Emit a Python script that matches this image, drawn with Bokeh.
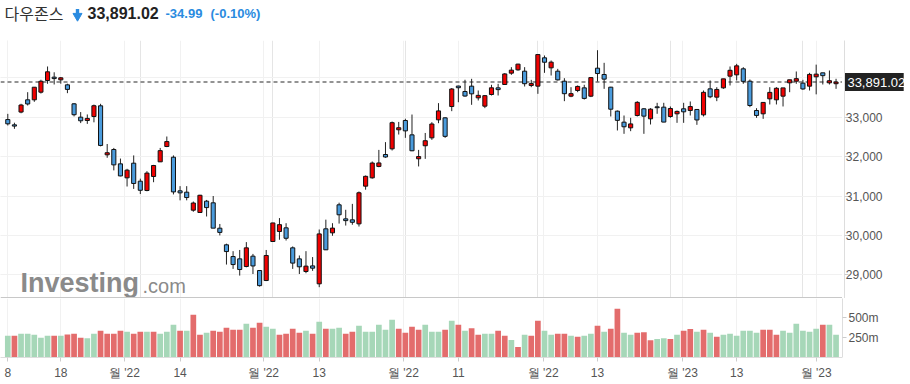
from bokeh.plotting import figure
from bokeh.layouts import column, row
from bokeh.models import ColumnDataSource, FixedTicker, Span, Grid, Range1d, NumeralTickFormatter
from bokeh.core.properties import value
from bokeh.embed import file_html
from bokeh.resources import INLINE

# ---------------- data (Dow Jones daily, Aug 8 2022 - Feb 6 2023) ----------------
opens = [32940, 32806, 33130, 33441, 33441, 33635, 33931, 34016, 33948, 33821,
         33339, 33001, 32916, 33018, 33289, 32045, 32180, 31816, 31461, 31833,
         31376, 31140, 31495, 31867, 32256, 31985, 31131, 31097, 30640, 30581,
         30869, 30827, 30183, 29761, 29464, 29405, 29211, 29473, 29109, 28855,
         29845, 30099, 30192, 29684, 29405, 29084, 29226, 28771, 30167, 30065,
         30776, 30420, 30395, 30293, 31250, 31461, 31750, 32053, 32197, 32680,
         32916, 32552, 31945, 32275, 32476, 32933, 32984, 33271, 33790, 33652,
         33788, 33491, 33280, 33576, 33745, 33830, 34118, 34202, 34168, 33805,
         33788, 34507, 34253, 34168, 33914, 33534, 33678, 33745, 33534, 34244,
         34084, 33762, 33153, 32874, 32730, 33043, 33213, 32959, 33263, 33255,
         33018, 33086, 33213, 33170, 33196, 33060, 33720, 33509, 33745, 34042,
         34075, 34228, 33914, 33170, 33086, 33466, 33441, 33534, 33872, 33914,
         33864, 33788, 34025, 34126, 33872, 33850]
highs = [33085, 32860, 33340, 33635, 33765, 33950, 34287, 34140, 34020, 33850,
         33360, 33130, 33070, 33320, 33340, 32320, 32220, 31950, 31690, 32030,
         31440, 31630, 31790, 32220, 32510, 32030, 31250, 31250, 30860, 31030,
         30900, 31000, 30290, 29790, 29600, 29630, 29830, 29530, 29110, 29630,
         30320, 30440, 30310, 29720, 29490, 29600, 29450, 30150, 30400, 30310,
         30830, 30650, 30800, 31115, 31520, 31876, 32170, 32367, 32890, 32880,
         32960, 33068, 32170, 32600, 32874, 33357, 33000, 33740, 33800, 33950,
         33974, 33678, 33560, 33822, 33847, 34118, 34270, 34355, 34270, 33948,
         34590, 34566, 34439, 34227, 33990, 33762, 33805, 33822, 34010, 34700,
         34380, 33770, 33170, 33043, 32985, 33407, 33230, 33230, 33365, 33365,
         33272, 33170, 33365, 33399, 33196, 33678, 33932, 33762, 33974, 34287,
         34354, 34270, 33957, 33229, 33382, 33762, 33762, 33744, 33949, 34160,
         33948, 34126, 34334, 34126, 34185, 33975]
lows = [32790, 32705, 33100, 33297, 33390, 33600, 33847, 33830, 33850, 33610,
        33020, 32850, 32830, 32870, 32260, 31970, 31650, 31500, 31241, 31180,
        31050, 31120, 31350, 31867, 32240, 31040, 30890, 30890, 30600, 30570,
        30480, 30190, 30000, 29260, 29150, 28980, 29190, 29020, 28700, 28840,
        29840, 29890, 29870, 29150, 29020, 29040, 29100, 28686, 29630, 29990,
        30300, 30250, 30270, 30225, 31160, 31440, 31730, 31970, 32155, 32560,
        32476, 32138, 31750, 31943, 32425, 32848, 32476, 33153, 33380, 33520,
        33314, 33424, 33230, 33551, 33551, 33830, 34075, 34180, 33779, 33762,
        33593, 34126, 34058, 33931, 33407, 33508, 33635, 33449, 33510, 33906,
        33720, 33018, 32663, 32578, 32645, 33018, 32578, 32815, 33086, 32874,
        32985, 32857, 32857, 33043, 32806, 33018, 33483, 33407, 33720, 33805,
        33932, 33847, 33255, 32984, 32958, 33323, 33323, 33272, 33635, 33847,
        33695, 33678, 33580, 33830, 33830, 33720]
closes = [32832, 32774, 33309, 33336, 33761, 33912, 34152, 33980, 33999, 33706,
          33063, 32909, 32969, 33291, 32283, 32098, 31790, 31510, 31656, 31318,
          31145, 31581, 31774, 32151, 32381, 31104, 31080, 30961, 30822, 31019,
          30706, 30184, 30076, 29590, 29260, 29134, 29684, 29225, 28725, 29490,
          30316, 30273, 29927, 29297, 29203, 29220, 29168, 30038, 29634, 30185,
          30523, 30375, 30333, 31082, 31499, 31837, 31839, 31990, 32861, 32733,
          32653, 32148, 32001, 32403, 32827, 33160, 32514, 33716, 33748, 33537,
          33593, 33554, 33547, 33746, 33700, 34098, 34194, 34347, 33850, 33853,
          34590, 34395, 34397, 33947, 33597, 33598, 33781, 33477, 34005, 34108,
          33966, 33203, 32920, 32757, 32830, 33377, 33027, 33204, 33241, 32876,
          33221, 33147, 33136, 33270, 32930, 33631, 33518, 33704, 33973, 34190,
          34303, 33910, 33297, 33045, 33375, 33630, 33734, 33744, 33949, 33978,
          33717, 34086, 34093, 34054, 33926, 33891]
# volume in millions
volumes = [271, 271, 296, 296, 284, 246, 271, 271, 271, 288,
           296, 246, 242, 296, 334, 296, 296, 334, 321, 296,
           321, 321, 321, 296, 321, 409, 334, 334, 534, 284,
           309, 334, 321, 371, 346, 346, 421, 371, 434, 384,
           359, 284, 296, 359, 309, 334, 296, 446, 359, 359,
           371, 296, 321, 396, 321, 321, 409, 346, 471, 359,
           309, 384, 346, 409, 321, 321, 346, 459, 409, 334,
           367, 284, 296, 296, 334, 271, 219, 132, 284, 271,
           459, 334, 284, 296, 296, 271, 259, 271, 296, 396,
           321, 359, 609, 309, 284, 309, 315, 217, 230, 242,
           230, 284, 334, 355, 321, 346, 309, 259, 284, 296,
           271, 334, 334, 309, 346, 346, 284, 334, 309, 421,
           334, 321, 359, 409, 409, 284]
# volume bar direction (u = green, d = red)
vol_dir = list("udu uuuu dudd duud dddu ddud uuud uddu ddddd udduu dddd udud uudd uuuu uudd dduu udud uddu uddu dudd uudd uduu dud duud dduu dudd udud uuuu uudd duuu uuud uudd d".replace(" ", ""))

x_tick_pos = [0, 8, 17.6, 26, 38.6, 47, 59.7, 68, 80.8, 89, 101.8, 110, 122]
x_tick_lab = ["8", "18", "월 '22", "14", "월 '22", "13", "월 '22", "11", "월 '22", "13", "월 '23", "13", "월 '23"]
grid_price = [29000, 30000, 31000, 32000, 33000, 34000]
price_ticks = [29000, 30000, 31000, 32000, 33000]   # 34,000 is hidden behind the last-price tag
vol_ticks = [250, 500]
vol_tick_lab = ["250m", "500m"]

last_price = 33891.02
header_name = "다우존스"
header_last = "33,891.02"
header_chg = "-34.99"
header_pct = "(-0.10%)"

# ---------------- layout constants ----------------
W = 910
FRAME_W = 842
RB = W - FRAME_W
PX = 6.626                       # px per candle
X0 = -7.3 / PX
X1 = X0 + FRAME_W / PX
P_TOP, P_BOT = 34946.6, 28398.6  # price range for the 258px pane
V_TOP = 737.5

n = len(closes)
xs = list(range(n))
UP, DOWN = "#f00000", "#4a9bdc"
VUP, VDOWN = "#a6d7b8", "#e36c6c"
AXIS_FONT = "Liberation Sans"

src = ColumnDataSource(dict(
    x=xs, o=opens, h=highs, l=lows, c=closes,
    top=[max(a, b) for a, b in zip(opens, closes)],
    bot=[min(a, b) for a, b in zip(opens, closes)],
    col=[UP if c >= o else DOWN for o, c in zip(opens, closes)],
    v=volumes,
    vcol=[VUP if d == "u" else VDOWN for d in vol_dir],
))


def style_side_axis(ax, standoff):
    ax.axis_line_color = "#dddddd"
    ax.major_tick_line_color = "#cccccc"
    ax.major_tick_out = 0
    ax.major_tick_in = 4
    ax.minor_tick_line_color = None
    ax.major_label_text_font = AXIS_FONT
    ax.major_label_text_font_size = "12px"
    ax.major_label_text_color = "#555555"
    ax.major_label_standoff = standoff


# ---------------- header ----------------
hdr = figure(width=W, height=40, x_range=Range1d(0, FRAME_W), y_range=Range1d(0, 40),
             toolbar_location=None, output_backend="svg", min_border=0, min_border_right=RB)
hdr.axis.visible = False
hdr.grid.visible = False
hdr.outline_line_color = None
hdr.text(x=[4], y=[27.5], text=[header_name], text_font=value("Noto Sans CJK KR"),
         text_font_size="16px", text_color="#333333", text_baseline="middle")
hdr.scatter(x=[77], y=[24.5], marker="inverted_triangle", size=9,
            fill_color="#2a8be0", line_color="#2a8be0")
hdr.rect(x=[77], y=[29], width=3.4, height=5, fill_color="#2a8be0", line_color=None)
hdr.text(x=[87], y=[27.5], text=[header_last], text_font=value("Liberation Sans"),
         text_font_size="16px", text_font_style="bold", text_color="#222222", text_baseline="middle")
hdr.text(x=[165], y=[27.5], text=[header_chg], text_font=value("Liberation Sans"),
         text_font_size="13px", text_font_style="bold", text_color="#2a8be0", text_baseline="middle")
hdr.text(x=[210], y=[27.5], text=[header_pct], text_font=value("Liberation Sans"),
         text_font_size="13px", text_font_style="bold", text_color="#2a8be0", text_baseline="middle")

# ---------------- price pane ----------------
p = figure(width=FRAME_W, height=258, x_range=Range1d(X0, X1), y_range=Range1d(P_BOT, P_TOP),
           toolbar_location=None, output_backend="svg", x_axis_location=None,
           y_axis_location=None, min_border=0)
p.outline_line_color = None
p.add_layout(Grid(dimension=1, ticker=FixedTicker(ticks=grid_price), grid_line_color="#f1f1f1"))
p.add_layout(Grid(dimension=0, ticker=FixedTicker(ticks=x_tick_pos), grid_line_color="#f1f1f1"))


def px_to_x(page_x):
    return X0 + page_x / PX


def py_to_price(page_y):
    return P_TOP - (page_y - 40) * (P_TOP - P_BOT) / 258.0


# watermark
p.text(x=[px_to_x(20)], y=[py_to_price(282.5)], text=["Investing"], text_font=value("Liberation Sans"),
       text_font_size="27px", text_font_style="bold", text_color="#8a8a8a", text_baseline="middle")
p.text(x=[px_to_x(142)], y=[py_to_price(285.5)], text=[".com"], text_font=value("Liberation Sans"),
       text_font_size="20px", text_color="#8a8a8a", text_baseline="middle")

p.add_layout(Span(location=last_price, dimension="width", line_color="#707070",
                  line_width=1.5, line_dash="4 3", level="underlay"))
p.segment(x0="x", y0="h", x1="x", y1="l", source=src, line_color="#222222", line_width=1)
p.vbar(x="x", top="top", bottom="bot", width=0.62, source=src, fill_color="col",
       line_color="#111111", line_width=1)
p.add_layout(Span(location=P_BOT + 20, dimension="width", line_color="#c8c8c8", line_width=1.5))

# price axis strip (real axis; the last-price tag lives in its frame)
pa = figure(width=RB, height=258, x_range=Range1d(0, RB), y_range=p.y_range,
            toolbar_location=None, output_backend="svg", x_axis_location=None,
            y_axis_location="left", min_border=0)
pa.outline_line_color = None
pa.grid.visible = False
pa.yaxis.ticker = FixedTicker(ticks=price_ticks)
pa.yaxis.formatter = NumeralTickFormatter(format="0,0")
style_side_axis(pa.yaxis, -38)
pa.rect(x=[30.5], y=[last_price], width=61, height=18, height_units="screen",
        fill_color="#222222", line_color=None)
pa.text(x=[3], y=[last_price], text=[f"{last_price:,.2f}"], text_font=value(AXIS_FONT),
        text_font_size="13px", text_color="white", text_baseline="middle")

# ---------------- volume pane ----------------
v = figure(width=FRAME_W, height=86, x_range=p.x_range, y_range=Range1d(0, V_TOP),
           toolbar_location=None, output_backend="svg", y_axis_location=None,
           min_border=0, min_border_bottom=27)
v.outline_line_color = None
v.vbar(x="x", top="v", bottom=0, width=0.86, source=src, fill_color="vcol", line_color=None)
v.xaxis.ticker = FixedTicker(ticks=x_tick_pos)
v.xaxis.major_label_overrides = dict(zip(x_tick_pos, x_tick_lab))
v.xaxis.axis_line_color = "#dddddd"
v.xaxis.major_tick_line_color = "#cccccc"
v.xaxis.major_tick_out = 4
v.xaxis.major_tick_in = 0
v.xaxis.minor_tick_line_color = None
v.xaxis.major_label_text_font = AXIS_FONT
v.xaxis.major_label_text_font_size = "12px"
v.xaxis.major_label_text_color = "#555555"
v.xaxis.major_label_standoff = 4
v.ygrid.grid_line_color = None
v.xgrid.grid_line_color = "#f1f1f1"

va = figure(width=RB, height=86, x_range=Range1d(0, RB), y_range=v.y_range,
            toolbar_location=None, output_backend="svg", x_axis_location=None,
            y_axis_location="left", min_border=0, min_border_bottom=27)
va.outline_line_color = None
va.grid.visible = False
va.yaxis.ticker = FixedTicker(ticks=vol_ticks)
va.yaxis.major_label_overrides = dict(zip(vol_ticks, vol_tick_lab))
style_side_axis(va.yaxis, -36)

layout = column(hdr, row(p, pa, spacing=0), row(v, va, spacing=0), spacing=0)
open("out.html", "w").write(file_html(layout, INLINE))
